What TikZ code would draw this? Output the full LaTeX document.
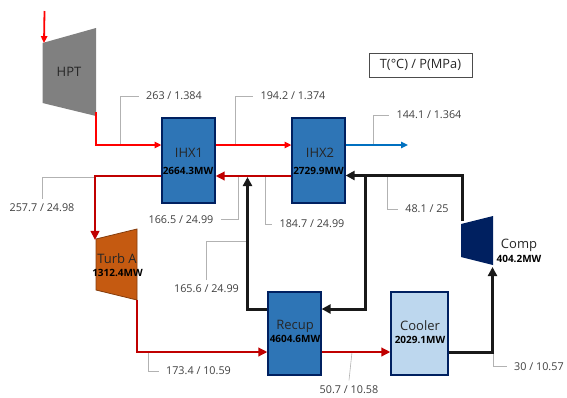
\documentclass[tikz,border=0pt]{standalone}
\usepackage{fontspec}
\setmainfont{Open Sans}
\usetikzlibrary{arrows.meta}
\definecolor{navy}{HTML}{002060}
\definecolor{midblue}{HTML}{2E75B6}
\definecolor{paleblue}{HTML}{BDD7EE}
\definecolor{rust}{HTML}{C55A11}
\definecolor{rustdark}{HTML}{843C0C}
\definecolor{hotred}{HTML}{FF0000}
\definecolor{deepred}{HTML}{C00000}
\definecolor{outblue}{HTML}{0070C0}
\tikzset{
	unitbox/.style={draw=navy, line width=1.2pt, fill=midblue, inner sep=0pt},
	unitname/.style={font=\fontsize{13}{15}\selectfont, text=black!85, inner sep=0pt},
	unitmw/.style={font=\fontsize{10}{12}\bfseries\selectfont, text=black, inner sep=0pt},
	val/.style={font=\fontsize{10.8}{13}\selectfont, text=black!75, inner xsep=7pt, inner ysep=5pt},
	leader/.style={draw=black!30, line width=0.6pt},
	hot/.style={hotred, line width=1.8pt, -{Triangle[length=2.4mm,width=2.2mm]}},
	hp/.style={deepred, line width=2.7pt, -{Triangle[length=3.2mm,width=3mm]}},
	cold/.style={black!90, line width=3pt, -{Triangle[length=3.2mm,width=3.2mm]}},
}
\begin{document}
\begin{tikzpicture}[x=1pt, y=-1pt]
	\useasboundingbox (0,0) rectangle (567,397);
	\clip (0,0) rectangle (567,397);
	% turbines and compressor
	\fill[black!50] (42.5,43) -- (96,28) -- (96,116) -- (42.5,103) -- cycle;
	\draw[rustdark, fill=rust, line width=0.8pt] (96,239) -- (137,229) -- (137,300) -- (96,290) -- cycle;
	\fill[navy] (461,224) -- (493,216) -- (493,265) -- (461,257) -- cycle;
	% heat exchangers
	\node[unitbox, minimum width=53pt, minimum height=85pt] (IHX1) at (188.5,160.5) {};
	\node[unitbox, minimum width=53pt, minimum height=85pt] (IHX2) at (318.5,160.5) {};
	\node[unitbox, minimum width=53pt, minimum height=83pt] (Recup) at (294.5,333.5) {};
	\node[unitbox, fill=paleblue, minimum width=57pt, minimum height=83pt] (Cooler) at (419.5,333.5) {};
	% port points
	\coordinate (hptin) at (44.5,11);
	\coordinate (hptport) at (44,43);
	\coordinate (hptout) at (96,112);
	\coordinate (a1) at (IHX1.west |- 0,145);
	\coordinate (a2) at (IHX1.east |- 0,145);
	\coordinate (b1) at (IHX2.west |- 0,145);
	\coordinate (b2) at (IHX2.east |- 0,145);
	\coordinate (b3) at (408,145);
	\coordinate (c1) at (IHX2.east |- 0,175.5);
	\coordinate (c2) at (IHX2.west |- 0,176);
	\coordinate (c3) at (IHX1.east |- 0,176);
	\coordinate (c4) at (IHX1.west |- 0,176);
	\coordinate (turbin) at (95,240);
	\coordinate (turbout) at (137,300);
	\coordinate (compin) at (492.5,267);
	\coordinate (compout) at (462,221);
	\coordinate (d1) at (Recup.west |- 0,309);
	\coordinate (d2) at (Recup.east |- 0,309);
	\coordinate (e1) at (Recup.west |- 0,352);
	\coordinate (e2) at (Recup.east |- 0,352);
	\coordinate (f1) at (Cooler.west |- 0,352);
	\coordinate (f2) at (Cooler.east |- 0,352);
	\coordinate (g1) at (247.5,177);
	\coordinate (g2) at (365.8,175.5);
	% values
	\node[val] (v263) at (174,96) {263 / 1.384};
	\node[val] (v194) at (293,96) {194.2 / 1.374};
	\node[val] (v144) at (429,115) {144.1 / 1.364};
	\node[val] (v257) at (42,208) {257.7 / 24.98};
	\node[val] (v166) at (181,219.5) {166.5 / 24.99};
	\node[val] (v184) at (312,224) {184.7 / 24.99};
	\node[val] (v48) at (427,209) {48.1 / 25};
	\node[val] (v165) at (206.5,289) {165.6 / 24.99};
	\node[val] (v173) at (198.5,371) {173.4 / 10.59};
	\node[val] (v50) at (349,389.5) {50.7 / 10.58};
	\node[val, anchor=west] (v30) at (507,366.5) {30 / 10.57};
	% leaders
	\draw[leader] (120.5,145) |- (v263.west);
	\draw[leader] (235,145) |- (v194.west);
	\draw[leader] (373.5,145) |- (v144.west);
	\draw[leader] (95,177) -| (v257.north);
	\draw[leader] (238,177) |- (v166.east);
	\draw[leader] (265,177) |- (v184.west);
	\draw[leader] (387.7,176) |- (v48.west);
	\draw[leader] (247,241) -| (v165.north);
	\draw[leader] (148,352) |- (v173.west);
	\draw[leader] (352,352) -- (v50.north);
	\draw[leader] (493,352) |- (v30.west);
	% flows
	\draw[hot] (hptin) -- (hptport);
	\draw[hot] (hptout) |- (a1);
	\draw[hot] (a2) -- (b1);
	\draw[hot, outblue] (b2) -- (b3);
	\draw[cold] (compout) |- (c1);
	\draw[cold] (d1) -| (g1);
	\draw[cold] (g2) |- (d2);
	\draw[cold] (f2) -| (compin);
	\draw[hp] (c2) -- (c3);
	\draw[hp] (c4) -| (turbin);
	\draw[hp] (turbout) |- (e1);
	\draw[hp] (e2) -- (f1);
	% names
	\node[unitname] (nHPT) at (69,72) {HPT};
	\node[unitname] (nIHX1) at (189,153) {IHX1};
	\node[unitmw] (mIHX1) at (188,170.5) {2664.3MW};
	\node[unitname] (nIHX2) at (320,153) {IHX2};
	\node[unitmw] (mIHX2) at (318.5,170.5) {2729.9MW};
	\node[unitname] (nTurb) at (117,259) {Turb A};
	\node[unitmw] (mTurb) at (117.5,273) {1312.4MW};
	\node[unitname] (nRecup) at (295,326) {Recup};
	\node[unitmw] (mRecup) at (295,339) {4604.6MW};
	\node[unitname] (nCooler) at (420,326) {Cooler};
	\node[unitmw] (mCooler) at (420,339.5) {2029.1MW};
	\node[unitname] (nComp) at (519,245) {Comp};
	\node[unitmw] (mComp) at (519,258.5) {404.2MW};
	% legend
	\node[draw=black!70, line width=0.9pt, minimum width=103pt, minimum height=24pt, inner sep=0pt, font=\fontsize{12.8}{15}\selectfont, text=black!85] (legend) at (420.5,65) {T(°C) / P(MPa)};
\end{tikzpicture}
\end{document}
